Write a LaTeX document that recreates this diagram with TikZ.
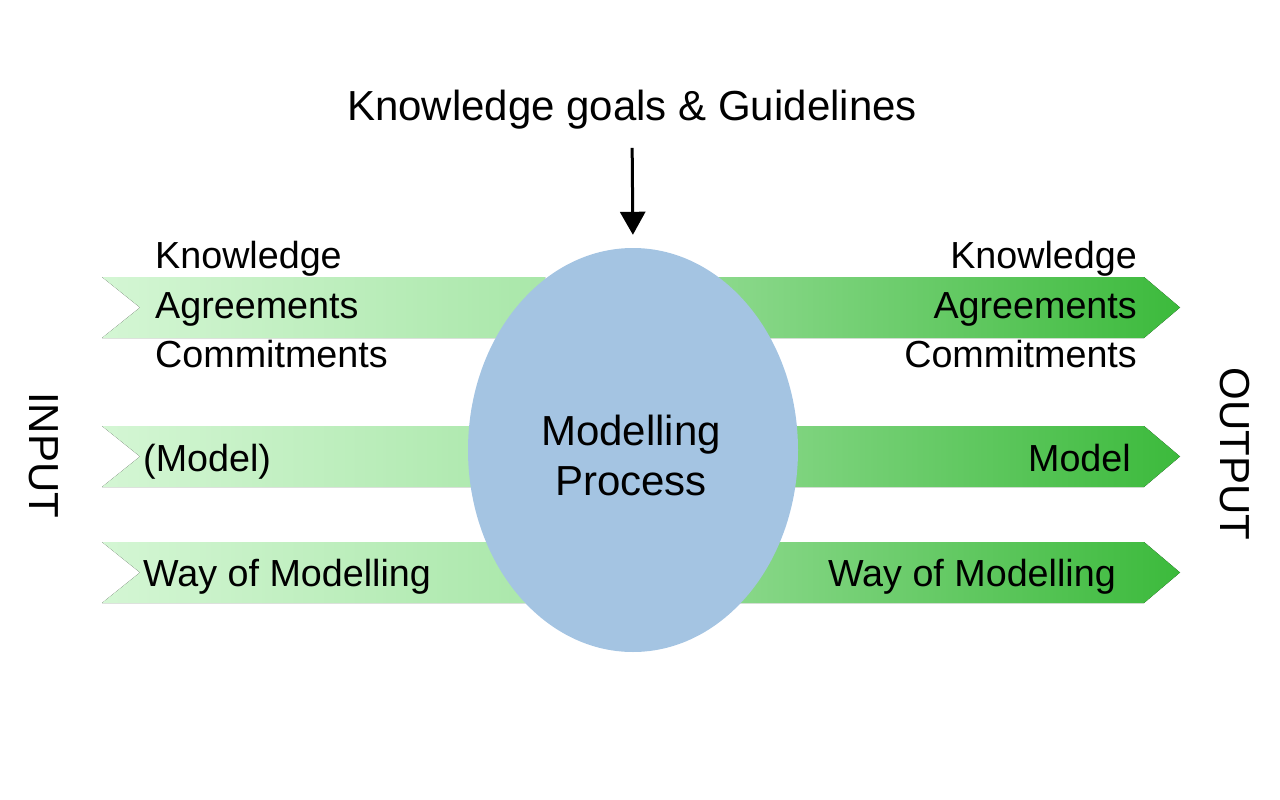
\documentclass[tikz,border=0pt]{standalone}
\usepackage{fontspec}
\setmainfont{Liberation Sans}
\usetikzlibrary{arrows.meta,shapes.geometric,positioning}
\definecolor{inpale}{HTML}{D4F6D4}
\definecolor{indeep}{HTML}{A9E7A9}
\definecolor{outpale}{HTML}{9CDF9C}
\definecolor{outdeep}{HTML}{3CBA3C}
\definecolor{procblue}{HTML}{A4C4E2}

\begin{document}
\begin{tikzpicture}[x=1pt,y=-1pt,
  inband/.style={left color=inpale,right color=indeep,draw=none},
  outband/.style={left color=outpale,right color=outdeep,draw=none},
  lbl/.style={inner sep=0pt,font=\fontsize{37.7}{45}\selectfont},
  big/.style={inner sep=0pt,font=\fontsize{42}{50}\selectfont},
  feed/.style={-{Triangle[width=25pt,length=23pt]},line width=3pt}]
 \useasboundingbox (0,0) rectangle (1280,800);
 % input bands (notched)
 \foreach \t in {277,426,542}
  \fill[inband] (102,\t) -- (545,\t) -- (545,\t+61) -- (102,\t+61) -- (140,\t+30.5) -- cycle;
 % output bands (arrows)
 \foreach \t in {277,426,542}
  \fill[outband] (625,\t) -- (1144,\t) -- (1180,\t+30.5) -- (1144,\t+61) -- (625,\t+61) -- cycle;
 % modelling process
 \node[ellipse,fill=procblue,minimum width=330pt,minimum height=404pt,inner sep=0pt] (proc) at (633,450) {};
 \node[big,align=center] (proctext) at (631,455) {Modelling\\Process};
 % goals
 \node[big,anchor=base] (goals) at (632,120) {Knowledge goals \& Guidelines};
 \draw[feed,shorten <=19pt,shorten >=13pt] (goals.south) -- (proc.north);
 % input labels
 \node[lbl,anchor=base west] (inknow) at (155,268) {Knowledge};
 \node[lbl,anchor=base west] (inagree) at (155,318) {Agreements};
 \node[lbl,anchor=base west] (incommit) at (155,367) {Commitments};
 \node[lbl,anchor=base west] (inmodel) at (143,471) {(Model)};
 \node[lbl,anchor=base west] (inway) at (143,586) {Way of Modelling};
 % output labels
 \node[lbl,anchor=base east] (outknow) at (1137,268) {Knowledge};
 \node[lbl,anchor=base east] (outagree) at (1137,318) {Agreements};
 \node[lbl,anchor=base east] (outcommit) at (1137,367) {Commitments};
 \node[lbl,anchor=base east] (outmodel) at (1131,471) {Model};
 \node[lbl,anchor=base east] (outway) at (1116,586) {Way of Modelling};
 % sides
 \node[big,rotate=-90] (input) at (44,455) {INPUT};
 \node[big,rotate=-90] (output) at (1235,454) {OUTPUT};
\end{tikzpicture}
\end{document}
